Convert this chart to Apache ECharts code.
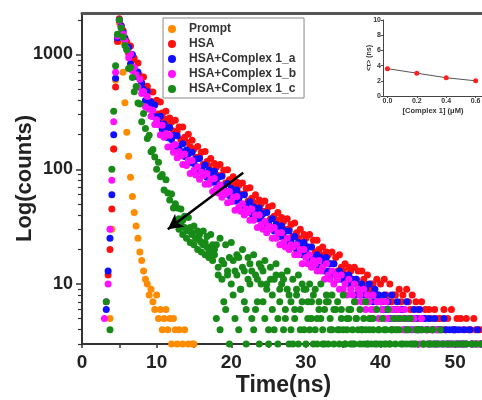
<!DOCTYPE html>
<html>
<head>
<meta charset="utf-8">
<script src="https://cdn.jsdelivr.net/npm/echarts@6/dist/echarts.min.js"></script>
<style>
html,body{margin:0;padding:0;background:#fff;}
#c{width:482px;height:400px;}
</style>
</head>
<body>
<div id="c"></div>
<script>
// ---- data ----
const times = [
  3, 3.25, 3.5, 3.75, 4, 4.25, 4.5, 4.75, 5, 5.25, 5.5, 5.75, 6, 6.25, 6.5, 6.75, 7, 7.25, 7.5, 7.75,
  8, 8.25, 8.5, 8.75, 9, 9.25, 9.5, 9.75, 10, 10.25, 10.5, 10.75, 11, 11.25, 11.5, 11.75, 12, 12.25, 12.5, 12.75,
  13, 13.25, 13.5, 13.75, 14, 14.25, 14.5, 14.75, 15, 15.25, 15.5, 15.75, 16, 16.25, 16.5, 16.75, 17, 17.25, 17.5, 17.75,
  18, 18.25, 18.5, 18.75, 19, 19.25, 19.5, 19.75, 20, 20.25, 20.5, 20.75, 21, 21.25, 21.5, 21.75, 22, 22.25, 22.5, 22.75,
  23, 23.25, 23.5, 23.75, 24, 24.25, 24.5, 24.75, 25, 25.25, 25.5, 25.75, 26, 26.25, 26.5, 26.75, 27, 27.25, 27.5, 27.75,
  28, 28.25, 28.5, 28.75, 29, 29.25, 29.5, 29.75, 30, 30.25, 30.5, 30.75, 31, 31.25, 31.5, 31.75, 32, 32.25, 32.5, 32.75,
  33, 33.25, 33.5, 33.75, 34, 34.25, 34.5, 34.75, 35, 35.25, 35.5, 35.75, 36, 36.25, 36.5, 36.75, 37, 37.25, 37.5, 37.75,
  38, 38.25, 38.5, 38.75, 39, 39.25, 39.5, 39.75, 40, 40.25, 40.5, 40.75, 41, 41.25, 41.5, 41.75, 42, 42.25, 42.5, 42.75,
  43, 43.25, 43.5, 43.75, 44, 44.25, 44.5, 44.75, 45, 45.25, 45.5, 45.75, 46, 46.25, 46.5, 46.75, 47, 47.25, 47.5, 47.75,
  48, 48.25, 48.5, 48.75, 49, 49.25, 49.5, 49.75, 50, 50.25, 50.5, 50.75, 51, 51.25, 51.5, 51.75, 52, 52.25, 52.5, 52.75,
  53, 53.25, 53.5, 53.75, 54];

const promptCounts = [
  null, null, null, 5, 30, 150, 600, 1400, 1900, 1300, 700, 380, 210, 130, 85, 58, 42, 32, 25, 19,
  16, 13, 11, 10, 8, 9, 7, 6, 8, 5, 6, 4, 5, 6, 4, 5, 3, 5, 4, 3,
  4, null, 3, 4, null, 3, null, 3, 3];

const hsaCounts = [
  null, null, 12, 20, 45, 150, 520, 1300, 2050, 1790, 1620, 1400, 1290, 1018, 1187, 897, 933, 684, 844, 655,
  567, 638, 480, 530, 476, 389, 472, 369, 399, 303, 386, 309, 276, 320, 247, 280, 258, 216, 267, 213,
  234, 181, 234, 190, 172, 202, 157, 179, 150, 127, 158, 128, 141, 110, 143, 117, 106, 124, 97, 112,
  104, 88, 110, 88, 98, 76, 99, 81, 73, 86, 68, 77, 72, 61, 76, 61, 68, 53, 69, 56,
  51, 60, 47, 54, 50, 43, 53, 43, 47, 37, 48, 39, 36, 42, 33, 38, 35, 30, 37, 30,
  33, 26, 34, 28, 25, 30, 23, 27, 25, 21, 27, 21, 24, 19, 24, 20, 18, 21, 17, 19,
  18, 15, 19, 15, 17, 13, 18, 14, 13, 15, 12, 14, 13, 11, 14, 11, 13, 10, 13, 11,
  10, 12, 9, 10, 10, 8, 11, 8, 10, 7, 11, 8, 7, 10, 7, 8, 8, 6, 9, 7,
  8, 5, 9, 7, 6, 8, 5, 7, 6, 5, 7, 5, 6, 4, 6, 5, 4, 6, 4, 5,
  5, 4, 6, 4, 5, 3, 6, 4, 4, 5, 3, 5, 4, 3, 5, 4, 4, 3, 5, 4,
  3, 4, 3, 4, 4];

const hsaACounts = [
  null, 6, 13, 25, 60, 200, 620, 1400, 2000, 1761, 1555, 1377, 1138, 1156, 829, 998, 757, 642, 705, 519,
  562, 496, 397, 473, 364, 386, 289, 363, 287, 254, 290, 222, 248, 227, 188, 231, 182, 198, 152, 196,
  158, 143, 167, 129, 147, 136, 114, 141, 112, 123, 96, 124, 102, 93, 109, 85, 98, 91, 77, 96,
  77, 85, 66, 87, 71, 64, 75, 59, 68, 63, 53, 66, 54, 59, 46, 60, 49, 45, 52, 41,
  47, 44, 37, 46, 37, 41, 32, 42, 34, 31, 37, 29, 33, 31, 26, 32, 26, 29, 23, 29,
  24, 22, 26, 20, 23, 22, 18, 23, 19, 21, 16, 21, 17, 16, 18, 14, 17, 16, 13, 17,
  13, 15, 12, 15, 12, 11, 13, 11, 12, 11, 10, 12, 10, 11, 8, 11, 9, 8, 10, 8,
  9, 7, 10, 8, 7, 9, 7, 8, 7, 6, 8, 6, 7, 5, 8, 6, 5, 7, 5, 6,
  6, 4, 7, 5, 5, 4, 6, 5, 4, 6, 4, 5, 5, 4, 5, 3, 4, 5, 3, 4,
  4, 3, 5, 4, 3, 4, 3, 4, 4, 3, 4, 3, 3, 4, 3, null, 4, 3, null, 3,
  4, null, 3, 3, null];

const hsaBCounts = [
  5, 7, 10, 30, 80, 260, 700, 1450, 1980, 1720, 1510, 1320, 1123, 936, 1008, 726, 770, 665, 522, 608,
  458, 477, 350, 431, 334, 290, 326, 245, 270, 244, 199, 242, 190, 205, 156, 198, 158, 141, 164, 126,
  142, 131, 110, 136, 108, 119, 92, 119, 98, 89, 105, 82, 94, 88, 74, 92, 74, 82, 64, 83,
  68, 62, 73, 57, 65, 61, 51, 64, 52, 57, 44, 58, 47, 43, 50, 40, 45, 42, 36, 45,
  36, 40, 31, 40, 33, 30, 35, 28, 32, 30, 25, 31, 25, 28, 22, 28, 23, 21, 25, 20,
  22, 21, 18, 22, 18, 20, 15, 20, 17, 15, 18, 14, 16, 15, 13, 16, 13, 14, 11, 15,
  12, 11, 13, 10, 12, 11, 9, 12, 9, 10, 8, 11, 9, 8, 10, 7, 9, 8, 7, 9,
  6, 8, 7, 6, 8, 6, 7, 5, 7, 6, 5, 7, 5, 6, 4, 6, 5, 4, 6, 5,
  4, 6, 4, 5, 4, 3, 5, 4, 4, 3, 5, 3, 4, 3, null, 4, 3, null, 4, 3,
  null, 3, null, 3, null, null, 3, null, 3, null, null, null, 3, null, null, null, null, 3, null, null,
  null, 3];

// HSA+Complex 1_c: two readings per time channel (the band is dense and wide)
const hsaCCounts = [
  null, 7, null, 4, 100, 320, 800, 1500, 2000, 1700, 1420, 1200, 1101, 757, 770, 630, 474, 526, 377, 371,
  259, 306, 226, 185, 198, 142, 149, 128, 100, 115, 86, 90, 66, 81, 62, 54, 61, 46, 50, 46,
  37, 45, 36, 39, 30, 38, 31, 28, 32, 25, 29, 27, 23, 29, 23, 26, 20, 27, 22, 20,
  22, 12, 25, 16, 7, 22, 12, 17, 23, 8, 13, 18, 17, 9, 20, 13, 6, 17, 10, 13,
  18, 6, 11, 15, 14, 7, 16, 10, 4, 14, 8, 11, 15, 5, 9, 12, 11, 6, 13, 8,
  4, 11, 6, 9, 12, 4, 7, 9, 9, 5, 10, 7, 3, 9, 5, 7, 10, 3, 6, 8,
  7, 4, 8, 6, null, 7, 4, 6, 8, 3, 5, 6, 6, 3, 7, 5, null, 6, 4, 5,
  7, 3, 4, 5, 5, 3, 6, 4, null, 5, 3, 4, 6, 3, 4, 5, 4, null, 5, 3,
  null, 5, 3, 4, 5, null, 3, 4, 4, null, 4, 3, null, 4, 3, null, 4, 3, null, 3,
  4, null, 3, null, 3, null, null, 3, null, 3, null, null, 3, null, 3, null, null, 3, null, 3,
  null, null, 3, null, 3];

const hsaCCountsB = [
  null, null, null, null, null, null, null, null, null, null, null, null, null, null, null, null, null, null, null, null,
  null, null, null, null, null, null, null, null, null, null, null, null, null, null, null, null, null, null, null, null,
  30, 34, 27, 31, 25, 29, 23, 27, 22, 25, 20, 24, 19, 22, 18, 21, 17, 19, 16, 18,
  5, 14, 4, 11, 15, 6, 13, 3, 10, 16, 5, 12, 4, 9, 14, 7, 3, 11, 15, 5,
  4, 12, 7, 3, 10, 13, 5, 9, 3, 11, 6, 4, 12, 3, 7, 10, 4, 5, 9, 3,
  7, 3, 5, 8, 3, 6, 10, 4, 3, 7, 4, 5, 8, 4, 3, 6, 5, 4, 3, 7,
  3, 5, 4, 3, 6, 4, 3, 5, 4, 3, 4, 5, 3, 4, 3, 5, 4, 3, 4, 3,
  4, 3, 5, 3, 4, null, 3, 4, 3, null, 4, 3, null, 3, 4, null, 3, null, 4, null,
  3, null, 4, null, 3, null, null, 3, null, 4, null, 3, null, null, 3, null, null, 3, null, null];

const seriesNames = ['Prompt', 'HSA', 'HSA+Complex 1_a', 'HSA+Complex 1_b', 'HSA+Complex 1_c'];
const seriesColors = ['#FF8C00', '#FF1010', '#1010FF', '#FF10FF', '#178A17'];

const xLabelTicks = [0, 10, 20, 30, 40, 50];
const xAllTicks = [0, 5, 10, 15, 20, 25, 30, 35, 40, 45, 50];
const yMajorTicks = [10, 100, 1000];
const yMinorTicks = [3, 4, 5, 6, 7, 8, 9, 20, 30, 40, 50, 60, 70, 80, 90, 200, 300, 400, 500, 600, 700, 800, 900, 2000];

const arrowFrom = [21.6, 93];
const arrowTo = [11.5, 30];

const insetConc = [0, 0.2, 0.4, 0.6];
const insetTau = [3.6, 3.0, 2.4, 2.0];
const insetXTicks = [0, 0.2, 0.4, 0.6];

// ---- build ----
function pairs(vals) {
  const out = [];
  vals.forEach((v, i) => { if (v != null) out.push([times[i], v]); });
  return out;
}
const allCounts = [promptCounts, hsaCounts, hsaACounts, hsaBCounts, hsaCCountsB.map((v, i) => v)];
const FONT = 'Liberation Sans';
const axisCol = '#333';

const scatterSeries = [promptCounts, hsaCounts, hsaACounts, hsaBCounts, null].map((vals, k) => ({
  name: seriesNames[k],
  type: 'scatter',
  xAxisIndex: 0,
  yAxisIndex: 0,
  symbol: 'circle',
  symbolSize: 7,
  itemStyle: { color: seriesColors[k], opacity: 1 },
  data: k === 4 ? pairs(hsaCCountsB).concat(pairs(hsaCCounts)) : pairs(vals),
  z: 2 + k,
  clip: true
}));
scatterSeries[4].markLine = {
  silent: true,
  symbol: ['none', 'arrow'],
  symbolSize: [12, 15],
  lineStyle: { color: '#000', width: 2.5, type: 'solid' },
  label: { show: false },
  emphasis: { disabled: true },
  data: [[{ coord: arrowFrom }, { coord: arrowTo }]],
  z: 20
};

const option = {
  animation: false,
  backgroundColor: '#fff',
  grid: [
    { left: 82, top: 13, width: 403, height: 331, containLabel: false, outerBoundsMode: 'none' },
    { left: 383, top: 20, width: 100, height: 76, containLabel: false, outerBoundsMode: 'none' }
  ],
  legend: {
    data: seriesNames,
    orient: 'vertical',
    left: 163,
    top: 18,
    padding: [5, 8, 3, 5],
    itemGap: 3,
    itemWidth: 24,
    itemHeight: 8,
    icon: 'circle',
    borderColor: '#888',
    borderWidth: 1,
    backgroundColor: '#fff',
    textStyle: { fontSize: 12, fontWeight: 'bold', color: '#333', fontFamily: FONT }
  },
  xAxis: [
    {
      gridIndex: 0, type: 'value', min: 0, max: 54,
      axisLine: { onZero: false, lineStyle: { color: axisCol, width: 2 } },
      axisTick: { customValues: xAllTicks, length: 4, lineStyle: { color: axisCol, width: 1.5 } },
      axisLabel: { customValues: xLabelTicks, fontSize: 19, fontWeight: 'bold', color: '#222', margin: 9, fontFamily: FONT },
      splitLine: { show: false },
      name: 'Time(ns)', nameLocation: 'middle', nameGap: 30, nameMoveOverlap: false,
      nameTextStyle: { fontSize: 23, fontWeight: 'bold', color: '#222', fontFamily: FONT }
    },
    {
      gridIndex: 0, type: 'value', min: 0, max: 54, position: 'top',
      axisLine: { onZero: false, lineStyle: { color: '#555', width: 3 } },
      axisTick: { show: false }, axisLabel: { show: false }, splitLine: { show: false }
    },
    {
      gridIndex: 1, type: 'value', min: -0.03, max: 0.65,
      axisLine: { onZero: false, lineStyle: { color: '#444', width: 1 } },
      axisTick: { customValues: insetXTicks, length: 2, lineStyle: { color: '#444' } },
      axisLabel: { customValues: insetXTicks, formatter: v => v.toFixed(1), fontSize: 7, fontWeight: 'bold', color: '#333', margin: 2, fontFamily: FONT },
      splitLine: { show: false },
      name: '[Complex 1] (μM)', nameLocation: 'middle', nameGap: 11, nameMoveOverlap: false,
      nameTextStyle: { fontSize: 7.5, fontWeight: 'bold', color: '#333', fontFamily: FONT }
    }
  ],
  yAxis: [
    {
      gridIndex: 0, type: 'log', logBase: 10, min: 3, max: 2300,
      axisLine: { show: true, onZero: false, lineStyle: { color: axisCol, width: 2 } },
      axisTick: { show: true, customValues: yMajorTicks, length: 6, lineStyle: { color: axisCol, width: 1.5 } },
      axisLabel: { customValues: yMajorTicks, formatter: v => String(Math.round(v)), fontSize: 18, fontWeight: 'bold', color: '#222', margin: 9, fontFamily: FONT },
      splitLine: { show: false },
      name: 'Log(counts)', nameLocation: 'middle', nameGap: 46, nameMoveOverlap: false,
      nameTextStyle: { fontSize: 22, fontWeight: 'bold', color: '#222', fontFamily: FONT }
    },
    {
      gridIndex: 0, type: 'log', logBase: 10, min: 3, max: 2300, position: 'left',
      axisLine: { show: false },
      axisTick: { show: true, customValues: yMinorTicks, length: 4, lineStyle: { color: axisCol, width: 1.2 } },
      axisLabel: { show: false }, splitLine: { show: false }
    },
    {
      gridIndex: 1, type: 'value', min: 0, max: 10, interval: 2,
      axisLine: { show: true, onZero: false, lineStyle: { color: '#444', width: 1 } },
      axisTick: { show: true, length: 2, lineStyle: { color: '#444' } },
      axisLabel: { fontSize: 7, fontWeight: 'bold', color: '#333', margin: 2, fontFamily: FONT },
      splitLine: { show: false },
      name: '<τ> (ns)', nameLocation: 'middle', nameGap: 10, nameMoveOverlap: false,
      nameTextStyle: { fontSize: 7, fontWeight: 'bold', color: '#333', fontFamily: FONT }
    }
  ],
  series: scatterSeries.concat([
    {
      name: 'inset', type: 'line', xAxisIndex: 2, yAxisIndex: 2,
      data: insetConc.map((c, i) => [c, insetTau[i]]),
      symbol: 'circle', symbolSize: 5,
      itemStyle: { color: '#FF2020' },
      lineStyle: { color: '#555', width: 1 },
      z: 5
    }
  ])
};

const chart = echarts.init(document.getElementById('c'), null, { renderer: 'canvas' });
chart.setOption(option);
</script>
</body>
</html>
